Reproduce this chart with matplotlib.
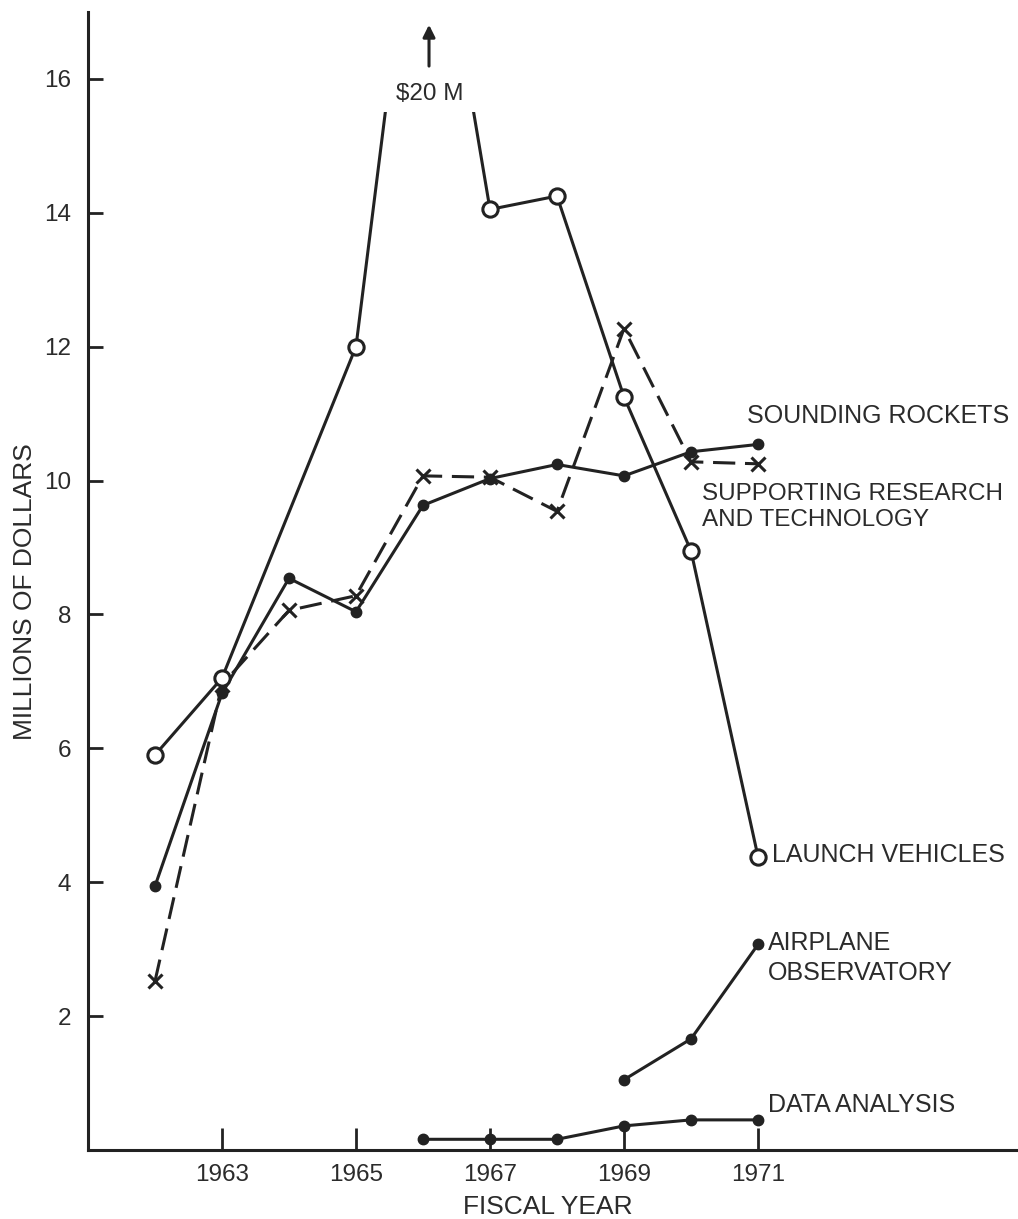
import numpy as np
import matplotlib
matplotlib.use('Agg')
import matplotlib.pyplot as plt
from matplotlib.patches import Rectangle

plt.rcParams['font.family'] = ['Liberation Sans', 'DejaVu Sans']
plt.rcParams['lines.scale_dashes'] = False

# values (millions of dollars, by fiscal year)
years = [1962, 1963, 1964, 1965, 1966, 1967, 1968, 1969, 1970, 1971]
lv_years = [1962, 1963, 1965, 1966, 1967, 1968, 1969, 1970, 1971]
launch_vehicles = [5.9, 7.05, 12.0, 20.0, 14.05, 14.25, 11.25, 8.95, 4.38]
sounding_rockets = [3.94, 6.82, 8.54, 8.04, 9.63, 10.03, 10.24, 10.07, 10.43, 10.54]
srt = [2.52, 6.95, 8.06, 8.28, 10.07, 10.05, 9.54, 12.27, 10.28, 10.25]
air_years = [1969, 1970, 1971]
airplane = [1.05, 1.66, 3.07]
da_years = [1966, 1967, 1968, 1969, 1970, 1971]
data_analysis = [0.16, 0.16, 0.16, 0.36, 0.45, 0.45]

xticks = [1963, 1965, 1967, 1969, 1971]
yticks = [2, 4, 6, 8, 10, 12, 14, 16]

ink = '#222222'
txt = '#2b2b2b'

fig = plt.figure(figsize=(10.18, 12.19), dpi=100)
ax = fig.add_axes([0.0864, 0.0566, 0.9136, 0.9336])

# launch vehicles - open circles, peak clipped off with "$20 M" note
ln, = ax.plot(lv_years, launch_vehicles, '-', color=ink, lw=2.2, marker='o',
              ms=11, mfc='white', mec=ink, mew=2.2, zorder=4)
clip = Rectangle((1960, -1), 20, 16.5, transform=ax.transData)
ln.set_clip_path(clip)

ax.plot(years, sounding_rockets, '-', color=ink, lw=2.2, marker='o', ms=7.5,
        mfc=ink, mec=ink, zorder=3)
ax.plot(years, srt, color=ink, lw=2.2, dashes=[16, 7], marker='x', ms=10,
        mew=2.2, zorder=3)
ax.plot(air_years, airplane, '-', color=ink, lw=2.2, marker='o', ms=7.5,
        mfc=ink, mec=ink, zorder=3)
ax.plot(da_years, data_analysis, '-', color=ink, lw=2.2, marker='o', ms=7.5,
        mfc=ink, mec=ink, zorder=3, clip_on=False)

ax.annotate('', xy=(1966.09, 16.85), xytext=(1966.09, 16.15),
            arrowprops=dict(arrowstyle='-|>', color=ink, lw=2.2,
                            mutation_scale=18), annotation_clip=False)
ax.text(1966.1, 15.78, '$20 M', ha='center', va='center', fontsize=17.5,
        color=txt)

fs = 18
ax.text(1970.84, 10.96, 'SOUNDING ROCKETS', fontsize=fs, color=txt,
        va='center', ha='left')
ax.text(1970.16, 9.60, 'SUPPORTING RESEARCH\nAND TECHNOLOGY', fontsize=17.5,
        color=txt, va='center', ha='left', linespacing=1.25)
ax.text(1971.21, 4.40, 'LAUNCH VEHICLES', fontsize=fs, color=txt,
        va='center', ha='left')
ax.text(1971.15, 2.87, 'AIRPLANE\nOBSERVATORY', fontsize=fs, color=txt,
        va='center', ha='left', linespacing=1.35)
ax.text(1971.15, 0.67, 'DATA ANALYSIS', fontsize=fs, color=txt,
        va='center', ha='left')

ax.set_xlim(1961.0, 1974.88)
ax.set_ylim(0, 17)
ax.set_xticks(xticks)
ax.set_yticks(yticks)
ax.tick_params(axis='x', direction='in', length=16, width=2, pad=10,
               labelsize=17.5, colors=ink, labelcolor=txt)
ax.tick_params(axis='y', direction='in', length=11, width=2, pad=12,
               labelsize=17.5, colors=ink, labelcolor=txt)
for s in ['top', 'right']:
    ax.spines[s].set_visible(False)
for s in ['left', 'bottom']:
    ax.spines[s].set_linewidth(2.2)
    ax.spines[s].set_color(ink)

fig.text(0.0246, 0.515, 'MILLIONS OF DOLLARS', rotation=90, fontsize=19,
         color=txt, ha='center', va='center')
fig.text(0.538, 0.0095, 'FISCAL YEAR', fontsize=19, color=txt,
         ha='center', va='center')

fig.savefig('out.png', dpi=100, facecolor='white')
